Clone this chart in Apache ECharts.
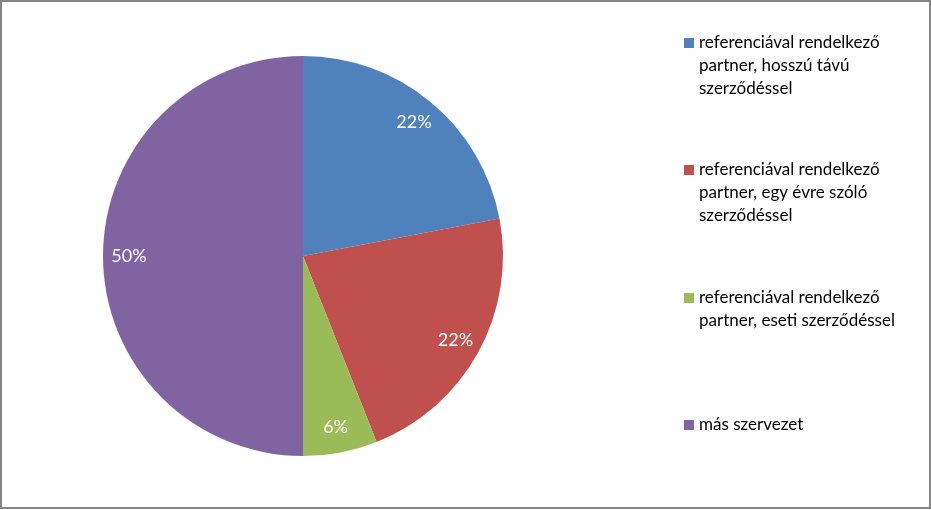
<!DOCTYPE html>
<html>
<head>
<meta charset="utf-8">
<script src="https://cdn.jsdelivr.net/npm/echarts@6/dist/echarts.min.js"></script>
<style>
html,body{margin:0;padding:0;background:#fff;}
#chart{width:931px;height:510px;}
</style>
</head>
<body>
<div id="chart"></div>
<script>
const categories = [
  "referenciával rendelkező\npartner, hosszú távú\nszerződéssel",
  "referenciával rendelkező\npartner, egy évre szóló\nszerződéssel",
  "referenciával rendelkező\npartner, eseti szerződéssel",
  "más szervezet"
];
const values = [22, 22, 6, 50];
const colors = ["#4F81BD", "#C0504D", "#9BBB59", "#8064A2"];
const iconCenters = [43, 170, 298, 425];

const LH = 23;
const fontFamily = "Lato, 'Open Sans', sans-serif";

const data = categories.map((c, i) => ({ name: c, value: values[i], itemStyle: { color: colors[i] } }));

const legends = categories.map((c, i) => {
  const n = c.split("\n").length;
  const H = (2 * n - 1) * LH;
  return {
    data: [c],
    orient: 'vertical',
    left: 684,
    top: iconCenters[i] - H / 2,
    padding: 0,
    icon: 'rect',
    itemWidth: 10,
    itemHeight: 10,
    selectedMode: false,
    formatter: name => '\n'.repeat(n - 1) + name,
    textStyle: {
      color: '#000',
      fontSize: 17,
      fontFamily: fontFamily,
      lineHeight: LH
    }
  };
});

const chart = echarts.init(document.getElementById('chart'), null, { renderer: 'canvas' });
chart.setOption({
  backgroundColor: '#fff',
  animation: false,
  graphic: [{
    type: 'rect',
    shape: { x: 1, y: 1, width: 929, height: 507 },
    style: { fill: 'none', stroke: '#868686', lineWidth: 2 },
    silent: true,
    z: 100
  }],
  legend: legends,
  series: [
    {
      type: 'pie',
      center: [303, 256],
      radius: [0, 200],
      startAngle: 90,
      clockwise: true,
      data: data,
      label: { show: false },
      labelLine: { show: false },
      itemStyle: { borderWidth: 0 },
      emphasis: { disabled: true }
    },
    {
      type: 'pie',
      center: [303, 256],
      radius: [142, 200],
      startAngle: 90,
      clockwise: true,
      silent: true,
      data: data.map(d => ({ name: d.name, value: d.value, itemStyle: { color: 'rgba(0,0,0,0)' } })),
      label: {
        show: true,
        position: 'inside',
        formatter: '{c}%',
        color: '#fff',
        fontSize: 18,
        fontFamily: fontFamily
      },
      labelLine: { show: false },
      itemStyle: { borderWidth: 0 },
      emphasis: { disabled: true }
    }
  ]
});
</script>
</body>
</html>
